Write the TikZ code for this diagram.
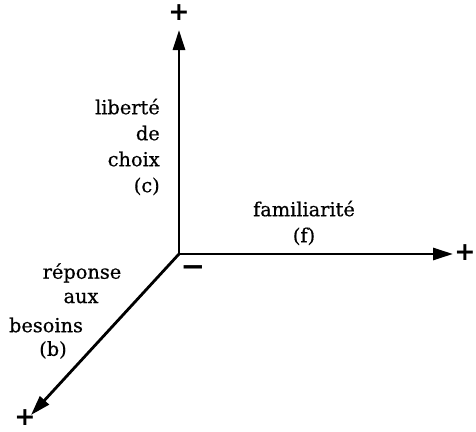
\documentclass[tikz,border=0pt]{standalone}
\usepackage{fontspec}
\setmainfont{DejaVu Serif}[FakeBold=0.6]
\newfontfamily\signfont{DejaVu Sans}
\usetikzlibrary{arrows.meta}

\begin{document}
\begin{tikzpicture}[
    x=0.75pt, y=-0.75pt,
    font=\fontsize{14.5}{19.5}\selectfont,
    >={Triangle[length=15pt, width=9pt]},
    axis/.style={->, line width=2.1pt},
    sign/.style={font=\signfont\bfseries\fontsize{#1}{#1}\selectfont, inner sep=0pt},
    lbl/.style={inner sep=0pt, align=#1},
]
\useasboundingbox (0,0) rectangle (476,432);
\coordinate (o) at (179,254);
\coordinate (c) at (179,30);
\coordinate (f) at (453,254);
\coordinate (b) at (31,415);
%% Axes
\draw[axis] (o) -- (c);
\draw[axis] (o) -- (f);
\draw[axis] (o) -- (b);
%% Signs
\node[sign=19] (cplus) at (179,13) {+};
\node[sign=19] (fplus) at (465,253) {+};
\node[sign=19] (bplus) at (25,418) {+};
\node[sign=22] (ominus) at (193,271) {−};
%% Labels
\node[lbl=right, anchor=east] (clbl) at (160,147) {liberté\\de\\choix\\(c)};
\node[lbl=center] (flbl) at (304,223) {familiarité\\(f)};
\node[lbl=center] (b1) at (82,273) {réponse};
\node[lbl=center] (b2) at (81,298) {aux};
\node[lbl=center] (b3) at (46,325) {besoins};
\node[lbl=center] (b4) at (53,350) {(b)};
\end{tikzpicture}
\end{document}
